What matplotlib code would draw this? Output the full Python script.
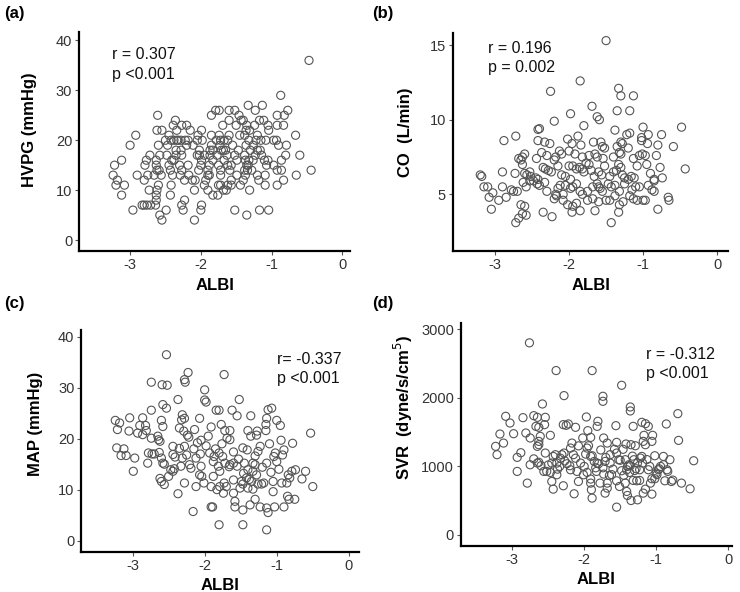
import matplotlib
matplotlib.use("Agg")
import matplotlib.pyplot as plt
import numpy as np

plt.rcParams['font.family'] = ['Liberation Sans', 'DejaVu Sans']
plt.rcParams['axes.unicode_minus'] = False

# ---------------- data ---------------- #
# (a) HVPG is recorded in whole mmHg: ALBI values listed per HVPG level
hvpg_rows = {
    36: [-0.47],
    29: [-0.87],
    27: [-1.33, -1.13],
    26: [-1.79, -1.74, -1.60, -1.52, -1.23, -0.77],
    25: [-2.61, -1.85, -1.46, -0.92, -0.82],
    24: [-2.36, -1.60, -1.43, -1.40, -1.17, -1.11],
    23: [-2.39, -2.27, -2.20, -1.69, -1.50, -1.35, -1.24, -1.05, -0.92, -0.83],
    22: [-2.62, -2.55, -2.34, -2.15, -1.99, -1.36, -1.31, -1.04],
    21: [-2.92, -2.45, -2.04, -1.85, -1.74, -1.60, -1.45, -1.38, -1.20, -0.66],
    20: [-2.50, -2.42, -2.38, -2.34, -2.32, -2.28, -2.22, -2.18, -2.05, -1.98,
         -1.78, -1.72, -1.67, -1.62, -1.32, -1.22, -1.15, -1.08, -0.97, -0.93],
    19: [-3.00, -2.60, -2.47, -2.20, -2.11, -1.85, -1.73, -1.55, -1.36, -1.26,
         -0.90, -0.79],
    18: [-2.35, -2.28, -2.02, -1.87, -1.83, -1.71, -1.68, -1.65, -1.47, -1.30,
         -1.20, -1.16],
    17: [-2.72, -2.58, -2.48, -2.35, -2.27, -2.05, -2.02, -1.95, -1.87, -1.77,
         -1.63, -1.52, -1.38, -1.23, -1.14, -0.80, -0.60],
    16: [-3.12, -2.77, -2.63, -2.41, -2.38, -1.99, -1.83, -1.67, -1.49, -1.37,
         -1.32, -1.26, -1.10, -1.05, -0.86],
    15: [-3.22, -2.79, -2.63, -2.45, -2.30, -2.18, -2.00, -1.88, -1.75, -1.62,
         -1.57, -1.35, -1.33, -1.07, -0.97],
    14: [-2.62, -2.59, -2.43, -2.27, -2.03, -1.90, -1.72, -1.59, -1.38, -1.34,
         -1.28, -0.92, -0.86, -0.44],
    13: [-3.24, -2.90, -2.75, -2.66, -2.56, -2.40, -2.29, -2.17, -1.90, -1.88,
         -1.72, -1.49, -1.37, -1.20, -1.09, -0.65],
    12: [-3.18, -2.80, -2.23, -2.12, -2.08, -1.93, -1.57, -1.40, -1.18, -0.83],
    11: [-3.20, -3.08, -2.60, -2.42, -1.95, -1.75, -1.72, -1.62, -1.57, -1.44,
         -1.09, -0.92],
    10: [-2.73, -2.62, -2.09, -1.90, -1.68, -1.64, -1.31],
    9: [-3.12, -2.63, -2.43, -1.83, -1.76],
    8: [-2.63, -2.23],
    7: [-2.83, -2.80, -2.76, -2.71, -2.64, -2.27, -1.99],
    6: [-2.96, -2.49, -2.25, -2.00, -1.52, -1.17, -1.04],
    5: [-2.58, -1.35],
    4: [-2.55, -2.09],
}

# (b) cardiac output (ALBI, CO)
co_points = [
    (-1.50, 15.3), (-1.85, 12.6), (-2.25, 11.9), (-1.33, 12.1), (-1.30, 11.6),
    (-1.13, 11.6), (-1.69, 10.9), (-1.98, 10.4), (-2.20, 9.9), (-1.62, 10.2),
    (-1.59, 10.0), (-1.35, 10.6), (-1.18, 10.6), (-1.80, 9.6), (-2.40, 9.4),
    (-2.42, 9.35), (-1.38, 9.3), (-1.00, 9.5), (-0.48, 9.5), (-1.18, 9.1),
    (-1.22, 9.0), (-0.93, 9.0), (-2.72, 8.9), (-1.88, 8.9), (-0.75, 9.0),
    (-1.02, 8.8),
    (-2.88, 8.6), (-2.42, 8.6), (-2.33, 8.5), (-2.26, 8.4), (-2.02, 8.7),
    (-1.96, 8.4), (-1.84, 8.3), (-1.67, 8.5), (-1.57, 8.5), (-1.55, 8.2),
    (-1.52, 8.1), (-1.30, 8.5), (-1.28, 8.4), (-1.20, 8.1), (-1.35, 8.2),
    (-1.02, 8.6), (-0.94, 8.4), (-0.80, 8.3), (-0.59, 8.2), (-2.37, 7.8),
    (-2.13, 7.9), (-2.10, 7.7), (-2.18, 7.5), (-2.00, 7.9), (-1.92, 7.7),
    (-1.82, 7.5), (-1.73, 7.6), (-1.65, 7.7), (-1.62, 7.5), (-1.54, 7.4),
    (-1.40, 7.5), (-1.32, 7.8), (-1.30, 7.7), (-1.05, 7.6), (-1.01, 7.7),
    (-0.97, 7.6), (-0.82, 7.6), (-2.60, 7.7), (-2.63, 7.5), (-2.68, 7.4),
    (-2.44, 7.4), (-2.30, 7.6), (-1.13, 7.4),
    (-2.90, 6.5), (-2.73, 6.4), (-2.63, 7.0), (-2.60, 6.4), (-2.57, 6.3),
    (-2.52, 6.2), (-2.45, 6.1), (-2.42, 6.0), (-2.35, 6.8), (-2.32, 6.7),
    (-2.28, 6.6), (-2.24, 6.5), (-2.20, 7.3), (-2.15, 6.9), (-2.10, 6.3),
    (-2.05, 6.2), (-2.00, 6.9), (-1.98, 6.0), (-1.90, 6.7), (-1.86, 6.8),
    (-1.82, 6.7), (-1.80, 6.5), (-1.77, 7.1), (-1.73, 7.0), (-1.70, 6.6),
    (-1.66, 6.2), (-1.60, 6.5), (-1.56, 6.3), (-1.52, 6.9), (-1.45, 6.2),
    (-1.40, 6.5), (-1.36, 6.6), (-1.33, 7.0), (-1.30, 6.8), (-1.28, 6.3),
    (-1.25, 6.1), (-1.20, 6.0), (-1.16, 6.2), (-1.12, 6.1), (-1.08, 6.9),
    (-0.95, 7.0), (-0.90, 6.4), (-0.85, 6.0), (-0.77, 6.8), (-0.74, 6.1),
    (-0.43, 6.7), (-1.95, 6.9), (-2.53, 6.5), (-2.65, 7.3),
    (-3.20, 6.3), (-3.18, 6.2), (-3.15, 5.5), (-3.10, 5.5), (-3.03, 5.1),
    (-2.90, 5.5), (-2.78, 5.3), (-2.75, 5.2), (-2.70, 5.2), (-2.62, 5.8),
    (-2.58, 5.5), (-2.53, 5.9), (-2.48, 5.9), (-2.43, 5.7), (-2.40, 5.6),
    (-2.33, 5.8), (-2.30, 5.2), (-2.18, 5.0), (-2.15, 5.4), (-2.12, 5.6),
    (-2.05, 5.6), (-1.98, 5.4), (-1.95, 5.5), (-1.90, 5.7), (-1.85, 5.2),
    (-1.82, 5.0), (-1.75, 5.2), (-1.68, 5.5), (-1.62, 5.7), (-1.58, 5.4),
    (-1.55, 5.2), (-1.47, 5.7), (-1.43, 5.5), (-1.38, 5.6), (-1.32, 5.2),
    (-1.25, 5.7), (-1.15, 5.3), (-1.10, 5.5), (-1.05, 5.5), (-0.93, 5.6),
    (-0.85, 5.9), (-0.88, 5.3), (-0.85, 5.2), (-1.60, 5.5), (-2.08, 5.0),
    (-3.08, 4.8), (-2.95, 4.6), (-3.05, 4.0), (-2.85, 4.8), (-2.65, 4.3),
    (-2.60, 4.2), (-2.68, 3.4), (-2.63, 3.7), (-2.58, 3.6), (-2.72, 3.1),
    (-2.35, 3.8), (-2.23, 3.5), (-2.20, 4.7), (-2.17, 4.9), (-2.08, 4.6),
    (-1.96, 3.8), (-1.90, 4.4), (-1.85, 3.9), (-1.75, 4.6), (-1.68, 4.7),
    (-1.65, 3.9), (-1.60, 4.5), (-1.50, 4.6), (-1.45, 4.6), (-1.43, 3.1),
    (-1.33, 3.8), (-1.32, 4.3), (-1.27, 4.5), (-1.18, 4.9), (-1.13, 4.7),
    (-1.08, 4.6), (-1.00, 4.6), (-0.97, 4.6), (-0.80, 4.0), (-0.66, 4.8),
    (-0.65, 4.6), (-1.38, 4.9), (-2.02, 4.3), (-1.95, 4.2),
]

# (c) mean arterial pressure (ALBI, MAP)
map_points = [
    (-2.53, 36.5), (-2.23, 33.0), (-1.73, 32.6), (-2.28, 31.6), (-2.27, 31.1),
    (-2.74, 31.1), (-2.59, 30.6), (-2.52, 30.5), (-2.00, 29.6), (-2.00, 27.6),
    (-1.98, 27.2), (-2.37, 27.7), (-1.52, 27.7), (-2.58, 26.7), (-2.53, 26.0),
    (-1.84, 25.6), (-1.80, 25.6), (-1.62, 25.6), (-1.12, 25.7), (-1.07, 26.0),
    (-2.74, 25.6), (-1.55, 24.5), (-1.36, 24.5), (-2.31, 24.7), (-2.32, 23.7),
    (-2.28, 24.0), (-2.07, 24.0), (-3.04, 24.1), (-2.86, 24.1), (-3.24, 23.6),
    (-3.18, 23.1), (-2.60, 23.6), (-1.00, 23.6), (-0.95, 22.6), (-1.14, 24.0),
    (-1.15, 22.8), (-3.21, 21.8), (-2.82, 22.6), (-2.81, 21.6), (-2.58, 22.4),
    (-2.35, 22.1), (-2.29, 21.5), (-2.14, 21.8), (-1.91, 22.3), (-1.77, 22.8),
    (-1.72, 21.6), (-1.65, 21.6), (-1.40, 21.6), (-1.27, 21.5), (-1.15, 21.6),
    (-0.53, 21.1), (-2.93, 21.1), (-2.74, 20.1), (-2.24, 20.7), (-2.22, 20.3),
    (-2.05, 19.7), (-1.95, 20.5), (-1.69, 20.1), (-1.65, 19.8), (-1.36, 20.5),
    (-1.28, 20.7), (-0.94, 19.7), (-0.78, 19.1), (-2.65, 20.5), (-2.64, 19.8),
    (-2.62, 19.5), (-3.22, 18.2), (-3.12, 18.0), (-3.16, 16.7), (-3.09, 16.7),
    (-2.97, 16.2), (-2.78, 17.2), (-2.73, 17.0), (-2.79, 15.2), (-2.63, 17.3),
    (-2.60, 16.2), (-2.58, 15.2), (-2.99, 13.6), (-2.44, 18.5), (-2.35, 18.1),
    (-2.28, 18.5), (-2.44, 16.9), (-2.41, 16.4), (-2.31, 16.2), (-2.33, 14.6),
    (-2.47, 13.9), (-2.44, 13.6), (-2.42, 14.1), (-2.21, 14.9), (-2.19, 14.2),
    (-2.12, 16.2), (-2.05, 14.6), (-2.07, 12.9), (-2.04, 12.6), (-1.93, 17.2),
    (-1.87, 16.5), (-1.88, 15.5), (-1.80, 17.2), (-1.75, 16.5), (-1.72, 15.2),
    (-1.65, 14.9), (-1.66, 14.5), (-1.81, 14.6), (-1.79, 13.6), (-1.88, 12.6),
    (-1.60, 15.2), (-1.55, 14.6), (-1.47, 18.2), (-1.41, 17.8), (-1.45, 15.2),
    (-1.40, 13.9), (-1.33, 15.2), (-1.30, 14.9), (-1.26, 17.5), (-1.23, 18.5),
    (-1.33, 13.6), (-1.28, 12.9), (-1.14, 15.2), (-1.04, 16.5), (-1.02, 17.2),
    (-1.10, 19.0), (-0.90, 17.8), (-1.00, 15.5), (-0.79, 13.6), (-0.74, 13.9),
    (-0.60, 13.6), (-0.84, 12.9), (-0.82, 12.3), (-0.65, 12.1), (-0.93, 11.3),
    (-0.86, 11.3), (-1.05, 11.6), (-0.50, 10.6), (-1.18, 11.3), (-1.21, 11.1),
    (-1.35, 11.6), (-1.42, 12.3), (-1.49, 11.6), (-1.47, 11.1), (-1.51, 10.3),
    (-1.40, 10.3), (-1.33, 10.1), (-1.26, 11.1), (-1.60, 11.9), (-1.73, 11.3),
    (-1.70, 10.6), (-1.83, 10.0), (-1.79, 10.6), (-1.91, 10.6), (-2.01, 11.3),
    (-2.12, 10.6), (-2.28, 11.3), (-2.37, 9.2), (-1.74, 9.3), (-1.60, 9.3),
    (-1.58, 7.7), (-1.58, 6.6), (-1.47, 6.0), (-1.37, 7.0), (-1.30, 8.1),
    (-1.23, 6.6), (-1.14, 6.4), (-1.12, 5.5), (-1.03, 6.6), (-1.05, 9.6),
    (-0.90, 6.6), (-0.85, 8.7), (-0.83, 8.1), (-0.75, 8.1), (-2.16, 5.7),
    (-1.91, 6.6), (-1.89, 6.6), (-1.80, 3.1), (-1.47, 3.1), (-1.14, 2.1),
    (-2.70, 17.0), (-2.56, 15.0), (-2.25, 16.8), (-2.15, 18.0), (-2.10, 19.2),
    (-1.98, 18.6), (-1.85, 18.0), (-1.76, 19.0), (-1.60, 17.4), (-1.53, 16.0),
    (-1.46, 13.2), (-1.38, 12.0), (-1.30, 16.6), (-1.20, 14.4), (-1.08, 13.4),
    (-0.97, 14.0), (-0.92, 16.8), (-2.06, 17.0), (-2.50, 12.6), (-2.60, 11.6),
    (-2.62, 12.2), (-2.56, 11.0), (-2.90, 22.6), (-2.86, 20.8), (-3.05, 21.5),
]

# (d) systemic vascular resistance (ALBI, SVR)
svr_points = [
    (-2.76, 2805), (-2.39, 2400), (-1.89, 2400), (-1.48, 2185), (-2.28, 2034),
    (-1.74, 2024), (-1.74, 1951), (-2.58, 1912), (-1.36, 1868), (-1.36, 1810),
    (-3.09, 1732), (-2.85, 1712), (-2.70, 1741), (-2.65, 1717), (-2.54, 1717),
    (-1.97, 1722), (-0.70, 1771), (-3.03, 1634), (-1.81, 1659), (-1.82, 1585),
    (-1.20, 1644), (-1.15, 1624), (-0.86, 1620), (-2.29, 1610), (-2.25, 1600),
    (-2.22, 1620), (-2.12, 1571), (-2.67, 1585), (-2.63, 1571), (-2.55, 1610),
    (-1.56, 1595), (-1.32, 1585), (-1.11, 1585), (-3.17, 1473), (-2.98, 1478),
    (-2.81, 1488), (-2.75, 1415), (-2.61, 1439), (-2.63, 1366), (-2.47, 1454),
    (-1.95, 1522), (-1.91, 1424), (-2.02, 1415), (-1.73, 1415), (-1.68, 1341),
    (-1.55, 1351), (-1.42, 1327), (-1.35, 1317), (-1.29, 1302), (-1.17, 1454),
    (-1.05, 1454), (-1.18, 1366), (-1.15, 1317), (-1.06, 1366), (-0.69, 1380),
    (-3.23, 1293), (-3.12, 1341), (-3.21, 1171), (-2.93, 1132), (-2.93, 927),
    (-2.79, 756), (-2.75, 1024), (-2.65, 1049), (-2.63, 1060), (-2.65, 1293),
    (-2.63, 1317), (-2.54, 1195), (-2.43, 1146), (-2.40, 1171), (-2.31, 1171),
    (-2.28, 1195), (-2.17, 1341), (-2.19, 1268), (-2.15, 1171), (-1.96, 1268),
    (-1.94, 1302), (-2.45, 1049), (-2.38, 1049), (-2.34, 1000), (-2.24, 1039),
    (-2.19, 951), (-2.05, 1049), (-1.82, 1049), (-1.80, 1040), (-1.64, 1171),
    (-1.55, 1195), (-1.91, 1146), (-1.89, 1156), (-1.86, 1073), (-1.71, 1073),
    (-1.64, 1049), (-1.52, 1098), (-1.50, 1090), (-1.43, 1098), (-1.38, 1024),
    (-1.36, 1010), (-1.31, 1098), (-1.22, 1122), (-1.20, 1146), (-1.19, 1049),
    (-1.41, 951), (-1.37, 912), (-1.48, 937), (-1.28, 966), (-1.23, 951),
    (-1.11, 951), (-0.97, 951), (-0.96, 966), (-1.00, 902), (-0.90, 1024),
    (-0.85, 951), (-0.84, 927), (-0.81, 1098), (-0.90, 1146), (-1.02, 1156),
    (-1.09, 1000), (-1.06, 820), (-2.56, 927), (-2.52, 927), (-2.47, 912),
    (-2.38, 878), (-2.10, 927), (-2.01, 878), (-1.96, 912), (-1.83, 927),
    (-1.73, 888), (-1.65, 868), (-2.45, 780), (-2.29, 717), (-2.43, 668),
    (-2.14, 600), (-2.08, 780), (-1.91, 815), (-1.91, 756), (-1.90, 659),
    (-1.89, 537), (-1.78, 756), (-1.68, 756), (-1.68, 683), (-1.71, 610),
    (-1.55, 790), (-1.51, 707), (-1.43, 756), (-1.41, 634), (-1.40, 576),
    (-1.35, 502), (-1.32, 795), (-1.27, 790), (-1.23, 795), (-1.26, 512),
    (-1.15, 668), (-1.18, 610), (-1.08, 756), (-1.06, 595), (-1.02, 820),
    (-0.88, 790), (-0.79, 780), (-0.77, 800), (-0.65, 756), (-0.53, 673),
    (-0.48, 1083), (-1.55, 405), (-2.88, 1200), (-2.70, 1110), (-2.60, 1010),
    (-2.33, 1120), (-2.27, 1080), (-2.20, 1010), (-2.12, 1120), (-2.00, 1000),
    (-1.98, 1180), (-1.84, 980), (-1.77, 1240), (-1.60, 960), (-1.58, 1250),
    (-1.46, 1250), (-1.33, 1150), (-1.30, 940), (-1.26, 1050), (-1.13, 1100),
    (-0.94, 1000), (-0.99, 880), (-2.50, 1020), (-2.37, 960), (-2.08, 1300),
    (-1.74, 980), (-1.62, 880), (-1.45, 870), (-1.40, 1000), (-1.70, 1130),
]

panel_labels = ["(a)", "(b)", "(c)", "(d)"]
y_labels = ["HVPG (mmHg)", "CO  (L/min)", "MAP (mmHg)", r"SVR  (dyne/s/cm$^5$)"]
stats_text = ["r = 0.307\np <0.001", "r = 0.196\np = 0.002",
              "r= -0.337\np <0.001", "r = -0.312\np <0.001"]

hvpg_x = [x for y in hvpg_rows for x in hvpg_rows[y]]
hvpg_y = [y for y in hvpg_rows for x in hvpg_rows[y]]

series = [
    (np.array(hvpg_x), np.array(hvpg_y)),
    tuple(np.array(v) for v in zip(*co_points)),
    tuple(np.array(v) for v in zip(*map_points)),
    tuple(np.array(v) for v in zip(*svr_points)),
]

# ---------------- layout ---------------- #
fig = plt.figure(figsize=(7.4, 5.92), dpi=100)
fig.patch.set_facecolor("white")

boxes = [
    [0.107, 0.576, 0.366, 0.370],
    [0.612, 0.576, 0.372, 0.368],
    [0.110, 0.068, 0.375, 0.375],
    [0.623, 0.078, 0.366, 0.377],
]
xlims = [(-3.72, 0.11), (-3.57, 0.15), (-3.71, 0.14), (-3.71, 0.05)]
ylims = [(-2.2, 41.7), (1.2, 15.8), (-2.2, 41.4), (-160, 3100)]
yticks = [[0, 10, 20, 30, 40], [5, 10, 15], [0, 10, 20, 30, 40],
          [0, 1000, 2000, 3000]]
text_pos = [(0.122, 0.93), (0.128, 0.965), (0.704, 0.90), (0.684, 0.893)]
label_pos = [(0.005, 0.978), (0.503, 0.978), (0.005, 0.488), (0.503, 0.488)]
ylabel_pos = [(-0.155, 0.553), (-0.144, 0.546), (-0.14, 0.576), (-0.169, 0.619)]

for i in range(4):
    ax = fig.add_axes(boxes[i])
    x, y = series[i]
    ax.scatter(x, y, s=34, facecolors="none", edgecolors="#555555",
               linewidths=0.8)
    ax.set_xlim(*xlims[i])
    ax.set_ylim(*ylims[i])
    ax.set_xticks([-3, -2, -1, 0])
    ax.set_yticks(yticks[i])
    for side in ["top", "right"]:
        ax.spines[side].set_visible(False)
    for side in ["left", "bottom"]:
        ax.spines[side].set_linewidth(1.6)
        ax.spines[side].set_color("black")
    ax.tick_params(axis="both", direction="out", length=3, width=0.8,
                   labelsize=10.5, labelcolor="#333333", color="#555555",
                   pad=2)
    ax.set_xlabel("ALBI", fontsize=12, fontweight="bold", labelpad=4)
    ax.set_ylabel(y_labels[i], fontsize=12, fontweight="bold")
    ax.yaxis.set_label_coords(*ylabel_pos[i])
    ax.text(text_pos[i][0], text_pos[i][1], stats_text[i],
            transform=ax.transAxes, fontsize=11.5, va="top", ha="left",
            linespacing=1.35, color="#111111")
    fig.text(label_pos[i][0], label_pos[i][1], panel_labels[i],
             fontsize=12, fontweight="bold", va="center", ha="left")

fig.savefig("out.png", dpi=100, facecolor="white")
